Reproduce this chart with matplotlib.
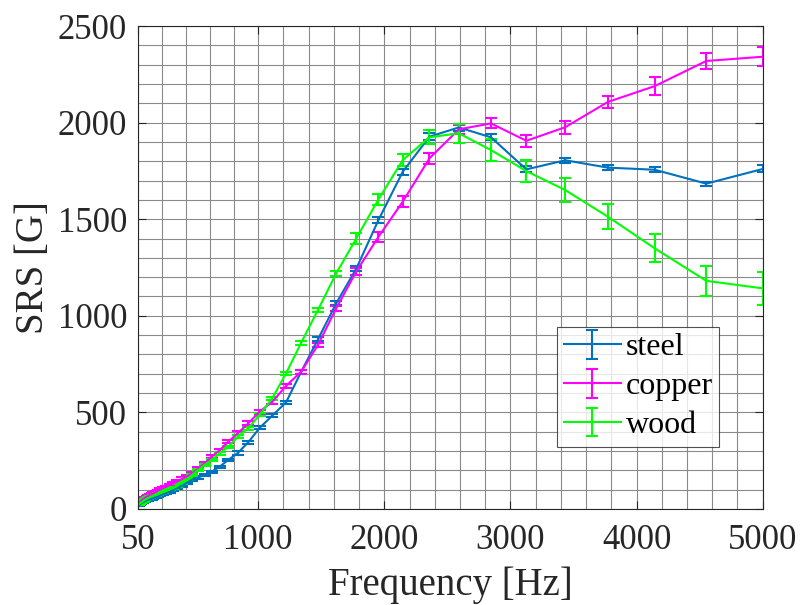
import matplotlib
matplotlib.use("Agg")
import matplotlib.pyplot as plt
from matplotlib.ticker import FixedLocator
from matplotlib.legend_handler import HandlerErrorbar
from matplotlib.container import ErrorbarContainer

plt.rcParams['font.family'] = ['Liberation Serif', 'DejaVu Serif']

freq = [50.0, 54.9, 60.3, 66.3, 72.8, 80.0, 87.9, 96.5, 106.1, 116.5,
        128.0, 140.6, 154.5, 169.7, 186.4, 204.8, 225.0, 247.1, 271.5, 298.2,
        327.6, 359.9, 395.4, 434.3, 477.1, 524.1, 575.8, 632.5, 694.9, 763.4,
        838.6, 921.2, 1012.0, 1111.7, 1221.3, 1341.6, 1473.8, 1619.1, 1778.6, 1953.9,
        2146.4, 2357.9, 2590.3, 2845.6, 3126.0, 3434.1, 3772.5, 4144.3, 4552.7, 5000.0]

steel = [18, 20, 23, 26, 29, 32, 35, 38, 41, 44,
         47, 50, 53, 56, 60, 64, 70, 76, 82, 89,
         98, 108, 120, 135, 152, 163, 176, 193, 219, 254,
         290, 345, 420, 483, 552, 711, 878, 1065, 1245, 1496,
         1746, 1927, 1975, 1924, 1758, 1805, 1767, 1756, 1684, 1760]
steel_err = [3, 3, 3, 3, 3, 3, 3, 3, 3, 3,
             4, 4, 4, 4, 4, 4, 4, 4, 4, 4,
             6, 6, 6, 6, 6, 6, 6, 6, 6, 6,
             8, 8, 8, 8, 8, 10, 10, 10, 12, 17,
             16, 19, 18, 15, 15, 12, 12, 12, 10, 18]

copper = [28, 31, 35, 39, 43, 47, 51, 55, 59, 63,
          67, 72, 77, 82, 88, 95, 102, 109, 116, 124,
          133, 143, 155, 168, 185, 208, 236, 271, 305, 348,
          392, 443, 504, 555, 637, 711, 849, 1039, 1230, 1409,
          1591, 1815, 1965, 1996, 1906, 1976, 2107, 2189, 2319, 2341]
copper_err = [4, 4, 4, 4, 4, 4, 4, 4, 4, 4,
              5, 5, 5, 5, 5, 5, 5, 5, 5, 5,
              8, 8, 8, 8, 8, 8, 8, 8, 8, 8,
              10, 10, 10, 10, 10, 10, 12, 14, 18, 26,
              28, 28, 22, 26, 32, 34, 32, 48, 42, 50]

wood = [22, 25, 28, 31, 34, 37, 41, 45, 49, 53,
        57, 61, 65, 69, 73, 77, 83, 89, 95, 102,
        110, 121, 135, 154, 176, 202, 228, 254, 288, 322,
        374, 418, 487, 573, 702, 861, 1030, 1220, 1401, 1603,
        1806, 1924, 1945, 1858, 1749, 1651, 1513, 1349, 1181, 1142]
wood_err = [3, 3, 3, 3, 3, 3, 3, 3, 3, 3,
            4, 4, 4, 4, 4, 4, 4, 4, 4, 4,
            6, 6, 6, 6, 6, 6, 6, 6, 6, 6,
            8, 8, 8, 8, 8, 10, 12, 14, 28, 27,
            30, 36, 50, 58, 59, 60, 66, 72, 78, 84]

series = [("steel", steel, steel_err, "#0072BD"),
          ("copper", copper, copper_err, "#FF00FF"),
          ("wood", wood, wood_err, "#00FF00")]

xticks = [50, 1000, 2000, 3000, 4000, 5000]
xminor = [240, 430, 620, 810, 1200, 1400, 1600, 1800, 2200, 2400, 2600, 2800,
          3200, 3400, 3600, 3800, 4200, 4400, 4600, 4800]
yticks = [0, 500, 1000, 1500, 2000, 2500]

fig = plt.figure(figsize=(8.01, 6.05), dpi=100)
ax = fig.add_axes([0.1727, 0.1587, 0.7795, 0.7983])

for name, vals, err, col in series:
    ax.errorbar(freq, vals, yerr=err, color=col, lw=1.5, elinewidth=1.5,
                capsize=4, capthick=1.5, label=name)

ax.set_xlim(50, 5000)
ax.set_ylim(0, 2500)
ax.set_xticks(xticks)
ax.set_xticklabels([str(t) for t in xticks])
ax.set_yticks(yticks)
ax.xaxis.set_minor_locator(FixedLocator(xminor))
ax.yaxis.set_minor_locator(FixedLocator(list(range(100, 2500, 100))))
ax.grid(True, which='major', color='#8a8a8a', lw=0.8)
ax.grid(True, which='minor', color='#8a8a8a', lw=0.8)
ax.set_axisbelow(True)
ax.tick_params(which='major', direction='in', top=True, right=True,
               length=6, width=0.8, labelsize=25, colors='#262626')
ax.tick_params(axis='x', which='major', pad=11)
ax.tick_params(axis='y', which='major', pad=8)
ax.tick_params(which='minor', length=0)
for s in ax.spines.values():
    s.set_color('#262626')
    s.set_linewidth(0.8)

ax.set_xlabel("Frequency [Hz]", fontsize=28, color='#262626', labelpad=7)
ax.set_ylabel("SRS [G]", fontsize=28, color='#262626', labelpad=4)

leg = ax.legend(loc='lower left', bbox_to_anchor=(0.671, 0.129), fontsize=23,
                frameon=True, fancybox=False, edgecolor='#262626',
                borderaxespad=0, handlelength=1.8, handletextpad=0.15,
                labelspacing=0.3, borderpad=0.2,
                handler_map={ErrorbarContainer: HandlerErrorbar(xerr_size=0.45)})
leg.get_frame().set_linewidth(0.8)

fig.savefig("out.png", dpi=100)
